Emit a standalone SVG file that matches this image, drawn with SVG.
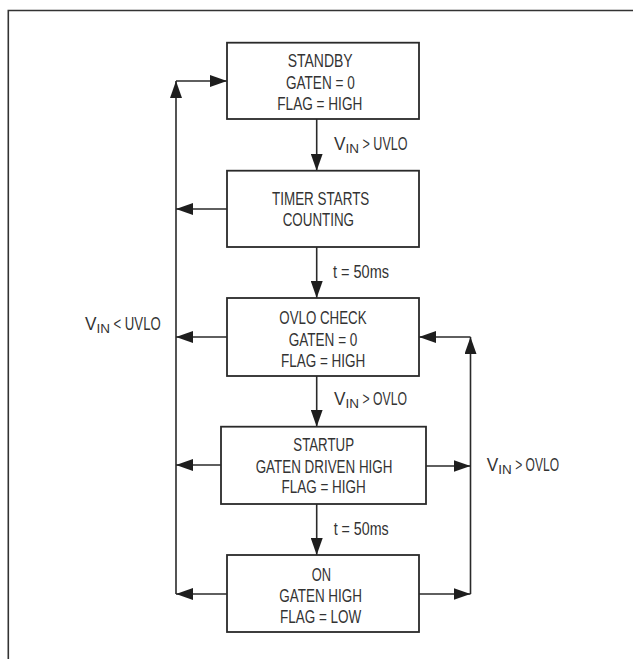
<svg xmlns="http://www.w3.org/2000/svg" width="633" height="659" viewBox="0 0 633 659">
<style>
.box{fill:#fff;stroke:#2a2a2a;stroke-width:1.8}
.ln{fill:none;stroke:#2a2a2a;stroke-width:1.6}
.t{font-family:"Liberation Sans",Arial,sans-serif;font-size:18px;fill:#333}
.s{font-family:"Liberation Sans",Arial,sans-serif;font-size:13px;fill:#333}
</style>
<defs>
<marker id="ah" markerUnits="userSpaceOnUse" markerWidth="17" markerHeight="12" refX="17" refY="6" orient="auto">
<path d="M0,0 L17,6 L0,12 z" fill="#1e1e1e"/>
</marker>
</defs>
<path d="M8.3,659 V10.5 H633" fill="none" stroke="#333" stroke-width="1.6"/>
<g id="connectors">
<line class="ln" x1="316.7" y1="119" x2="316.7" y2="170.7" marker-end="url(#ah)"/>
<line class="ln" x1="316.7" y1="247" x2="316.7" y2="298" marker-end="url(#ah)"/>
<line class="ln" x1="316.7" y1="376" x2="316.7" y2="426.7" marker-end="url(#ah)"/>
<line class="ln" x1="316.7" y1="504" x2="316.7" y2="555" marker-end="url(#ah)"/>
<line class="ln" x1="176" y1="594" x2="176" y2="81" marker-end="url(#ah)"/>
<line class="ln" x1="176" y1="81" x2="227" y2="81" marker-end="url(#ah)"/>
<line class="ln" x1="227" y1="209" x2="176" y2="209" marker-end="url(#ah)"/>
<line class="ln" x1="227" y1="337" x2="176" y2="337" marker-end="url(#ah)"/>
<line class="ln" x1="221" y1="465" x2="176" y2="465" marker-end="url(#ah)"/>
<line class="ln" x1="227" y1="594" x2="176" y2="594" marker-end="url(#ah)"/>
<line class="ln" x1="470.5" y1="594" x2="470.5" y2="337" marker-end="url(#ah)"/>
<line class="ln" x1="470.5" y1="337" x2="419" y2="337" marker-end="url(#ah)"/>
<line class="ln" x1="426" y1="466" x2="470.5" y2="466" marker-end="url(#ah)"/>
<line class="ln" x1="419" y1="594" x2="470.5" y2="594" marker-end="url(#ah)"/>
</g>
<g id="labels">
<text class="t" x="334" y="150" textLength="11.5" lengthAdjust="spacingAndGlyphs">V</text>
<text class="s" x="345.5" y="153" textLength="13.5" lengthAdjust="spacingAndGlyphs">IN</text>
<text class="t" x="362.5" y="150" textLength="45" lengthAdjust="spacingAndGlyphs">&gt; UVLO</text>
<text class="t" x="333" y="278" textLength="56" lengthAdjust="spacingAndGlyphs">t = 50ms</text>
<text class="t" x="334" y="405" textLength="11.5" lengthAdjust="spacingAndGlyphs">V</text>
<text class="s" x="345.5" y="408" textLength="13.5" lengthAdjust="spacingAndGlyphs">IN</text>
<text class="t" x="362.5" y="405" textLength="44.5" lengthAdjust="spacingAndGlyphs">&gt; OVLO</text>
<text class="t" x="333.7" y="535" textLength="55" lengthAdjust="spacingAndGlyphs">t = 50ms</text>
<text class="t" x="85" y="330" textLength="11.5" lengthAdjust="spacingAndGlyphs">V</text>
<text class="s" x="96.5" y="333" textLength="13.5" lengthAdjust="spacingAndGlyphs">IN</text>
<text class="t" x="113.5" y="330" textLength="47.2" lengthAdjust="spacingAndGlyphs">&lt; UVLO</text>
<text class="t" x="486.7" y="470.7" textLength="11.5" lengthAdjust="spacingAndGlyphs">V</text>
<text class="s" x="498.2" y="473.7" textLength="13.5" lengthAdjust="spacingAndGlyphs">IN</text>
<text class="t" x="515.2" y="470.7" textLength="43.8" lengthAdjust="spacingAndGlyphs">&gt; OVLO</text>
</g>
<g id="standby">
<rect class="box" x="227" y="42.7" width="192" height="76.3"/>
<text class="t" x="287.7" y="67.3" textLength="65" lengthAdjust="spacingAndGlyphs">STANDBY</text>
<text class="t" x="286" y="88.7" textLength="68.7" lengthAdjust="spacingAndGlyphs">GATEN = 0</text>
<text class="t" x="277.3" y="110" textLength="85" lengthAdjust="spacingAndGlyphs">FLAG = HIGH</text>
</g>
<g id="timer">
<rect class="box" x="227" y="170.7" width="192" height="76.3"/>
<text class="t" x="272" y="205" textLength="97.3" lengthAdjust="spacingAndGlyphs">TIMER STARTS</text>
<text class="t" x="282.7" y="226" textLength="71.3" lengthAdjust="spacingAndGlyphs">COUNTING</text>
</g>
<g id="ovlo">
<rect class="box" x="227" y="298" width="192" height="78"/>
<text class="t" x="279.3" y="324.3" textLength="87.3" lengthAdjust="spacingAndGlyphs">OVLO CHECK</text>
<text class="t" x="288.7" y="346" textLength="68.7" lengthAdjust="spacingAndGlyphs">GATEN = 0</text>
<text class="t" x="281" y="366.7" textLength="84.3" lengthAdjust="spacingAndGlyphs">FLAG = HIGH</text>
</g>
<g id="startup">
<rect class="box" x="221" y="426.7" width="205" height="77.3"/>
<text class="t" x="293.3" y="450.7" textLength="60.7" lengthAdjust="spacingAndGlyphs">STARTUP</text>
<text class="t" x="255.7" y="472.7" textLength="136.7" lengthAdjust="spacingAndGlyphs">GATEN DRIVEN HIGH</text>
<text class="t" x="281.5" y="493.3" textLength="84.3" lengthAdjust="spacingAndGlyphs">FLAG = HIGH</text>
</g>
<g id="on">
<rect class="box" x="227" y="555" width="192" height="77"/>
<text class="t" x="311.7" y="580.7" textLength="19.3" lengthAdjust="spacingAndGlyphs">ON</text>
<text class="t" x="279.3" y="601.7" textLength="82.7" lengthAdjust="spacingAndGlyphs">GATEN HIGH</text>
<text class="t" x="280" y="622.7" textLength="81.3" lengthAdjust="spacingAndGlyphs">FLAG = LOW</text>
</g>
</svg>
